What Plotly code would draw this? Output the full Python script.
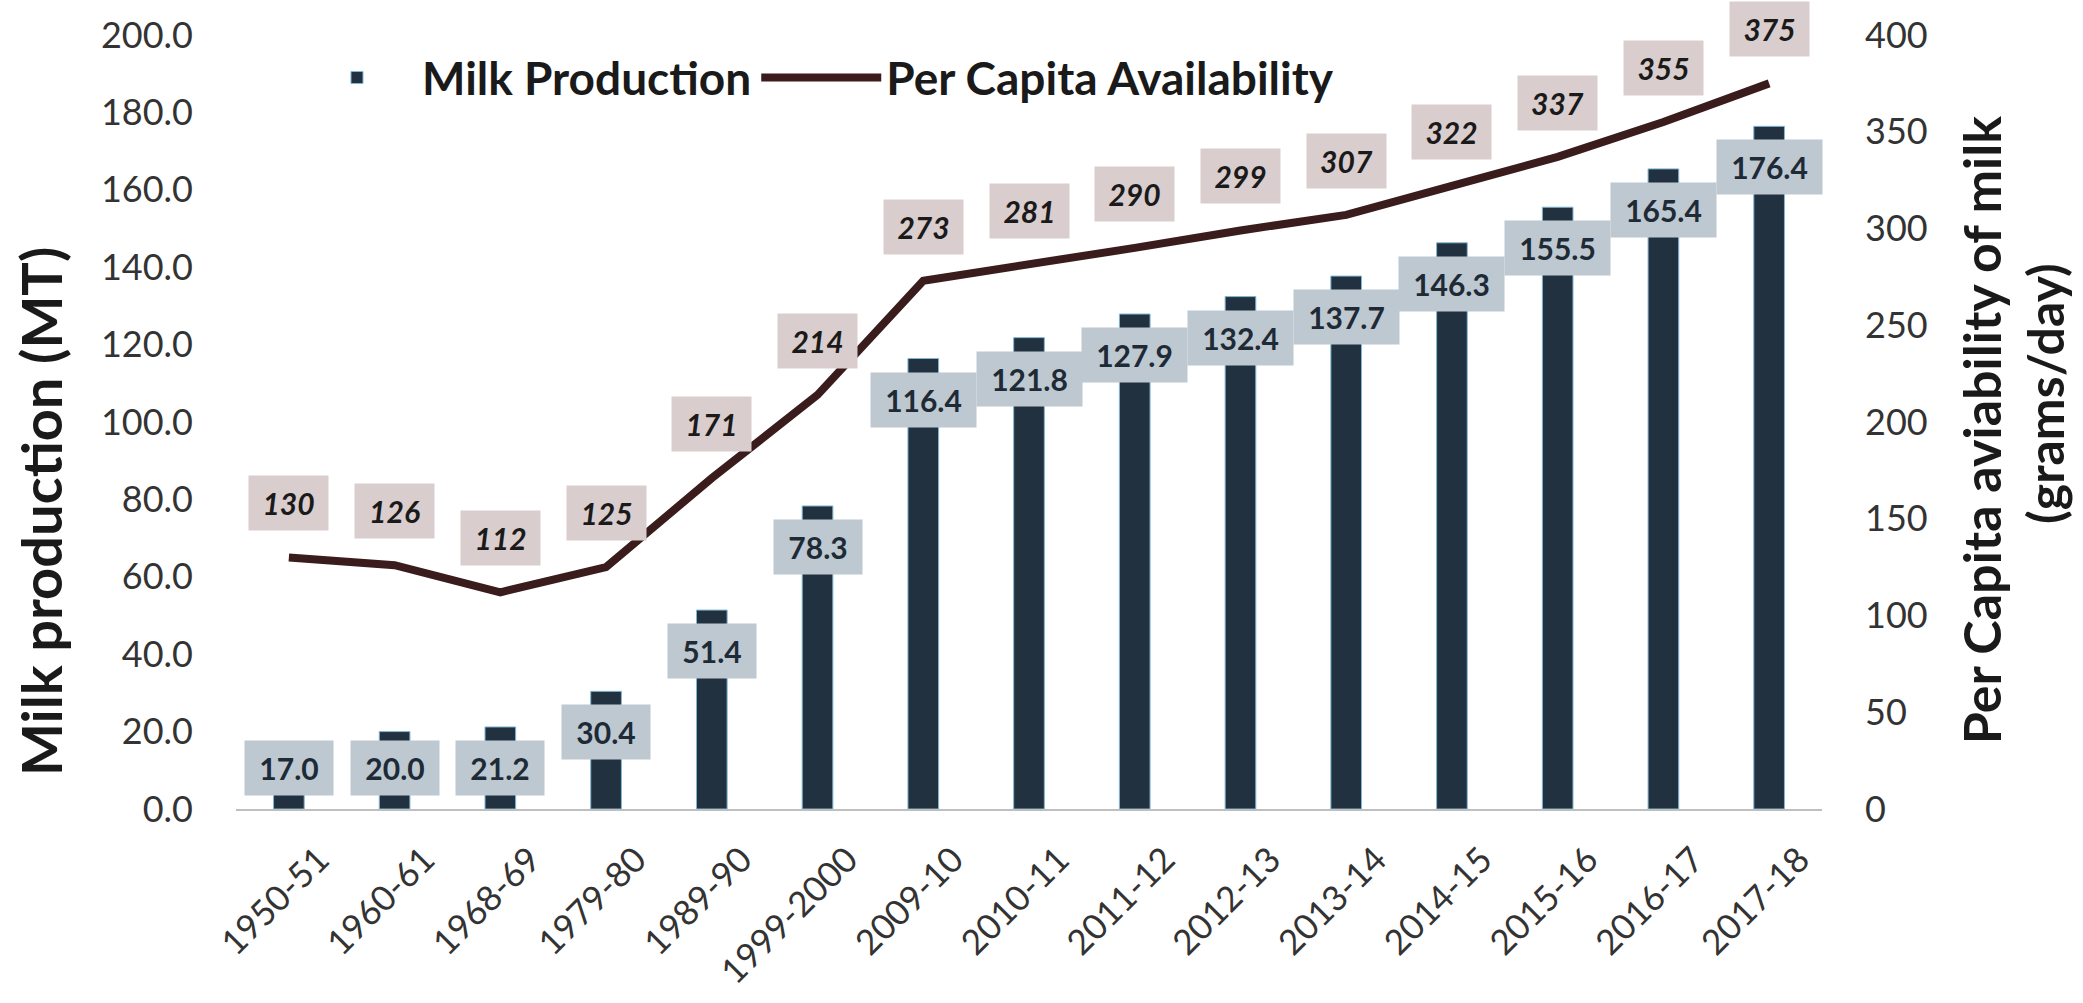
import plotly.graph_objects as go

years = ["1950-51", "1960-61", "1968-69", "1979-80", "1989-90", "1999-2000", "2009-10",
         "2010-11", "2011-12", "2012-13", "2013-14", "2014-15", "2015-16", "2016-17", "2017-18"]
production = [17.0, 20.0, 21.2, 30.4, 51.4, 78.3, 116.4, 121.8, 127.9, 132.4, 137.7, 146.3, 155.5, 165.4, 176.4]
per_capita = [130, 126, 112, 125, 171, 214, 273, 281, 290, 299, 307, 322, 337, 355, 375]

FONT = "Lato"
BAR_COLOR = "#22313f"
LINE_COLOR = "#3a1c1d"
BAR_LABEL_BG = "#bdc8d0"
LINE_LABEL_BG = "#d9cdcd"
LABEL_FLOOR = 21.2  # minimum anchor for bar labels (keeps boxes above the axis)

fig = go.Figure()
fig.add_trace(go.Bar(
    x=years, y=production, name="Milk Production",
    marker=dict(color=BAR_COLOR, line=dict(color="#7fb6d3", width=1)),
    yaxis="y",
))
fig.add_trace(go.Scatter(
    x=years, y=per_capita, name="Per Capita Availability", mode="lines",
    line=dict(color=LINE_COLOR, width=8), yaxis="y2",
))

annotations = []
for c, v in zip(years, production):
    s = f"{v:.1f}"
    annotations.append(dict(
        x=c, y=max(v, LABEL_FLOOR), xref="x", yref="y", yshift=-41,
        text=f"<b>{s}</b>", showarrow=False, bgcolor=BAR_LABEL_BG,
        borderpad=9, width=17 * len(s) + 2, height=36,
        font=dict(family=FONT, size=30, color="#1e2a36"),
    ))
for c, v in zip(years, per_capita):
    s = f"{v}"
    annotations.append(dict(
        x=c, y=v, xref="x", yref="y2", yshift=54,
        text=f"<b><i>{s}</i></b>", showarrow=False, bgcolor=LINE_LABEL_BG,
        borderpad=9, width=17 * len(s) + 10, height=36,
        font=dict(family=FONT, size=30, color="#1a1a1a"),
    ))

# axis titles
annotations.append(dict(
    text="<b>Milk production (MT)</b>", textangle=-90, showarrow=False,
    xref="paper", yref="paper", x=-0.1236, y=0.385, xanchor="center", yanchor="middle",
    font=dict(family=FONT, size=56, color="#1a1a1a"),
))
annotations.append(dict(
    text="<b>Per Capita aviability of milk</b>", textangle=-90, showarrow=False,
    xref="paper", yref="paper", x=1.1, y=0.49, xanchor="center", yanchor="middle",
    font=dict(family=FONT, size=52, color="#1a1a1a"),
))
annotations.append(dict(
    text="<b>(grams/day)</b>", textangle=-90, showarrow=False,
    xref="paper", yref="paper", x=1.141, y=0.537, xanchor="center", yanchor="middle",
    font=dict(family=FONT, size=50, color="#1a1a1a"),
))

fig.update_layout(
    width=2083, height=1003,
    margin=dict(l=236, r=261, t=29, b=190, pad=0),
    paper_bgcolor="white", plot_bgcolor="white",
    bargap=0.71,
    font=dict(family=FONT, color="#333333"),
    showlegend=True,
    legend=dict(
        orientation="h", x=0.0353, y=0.945, xanchor="left", yanchor="middle",
        font=dict(family=FONT, size=46, color="#1a1a1a", weight="bold"),
        bgcolor="rgba(0,0,0,0)", itemwidth=120,
        traceorder="normal",
    ),
    xaxis=dict(
        type="category", range=[-0.5, 14.5], tickangle=-45,
        showline=True, linecolor="#bfbfbf", linewidth=2,
        showgrid=False, ticks="", tickfont=dict(family=FONT, size=35, color="#333333"),
        ticklabelstandoff=14, ticklabelshift=30,
    ),
    yaxis=dict(
        range=[0, 200], dtick=20, tickformat=".1f", showgrid=False, zeroline=False,
        showline=False, ticks="", tickfont=dict(family=FONT, size=36, color="#333333"),
        ticklabelstandoff=42,
    ),
    yaxis2=dict(
        range=[0, 400], dtick=50, overlaying="y", side="right", showgrid=False,
        zeroline=False, showline=False, ticks="",
        tickfont=dict(family=FONT, size=36, color="#333333"),
        ticklabelstandoff=42,
    ),
    annotations=annotations,
)

fig.write_html("out.html", config={"displayModeBar": False},
               post_script="document.body.style.margin='0';")
